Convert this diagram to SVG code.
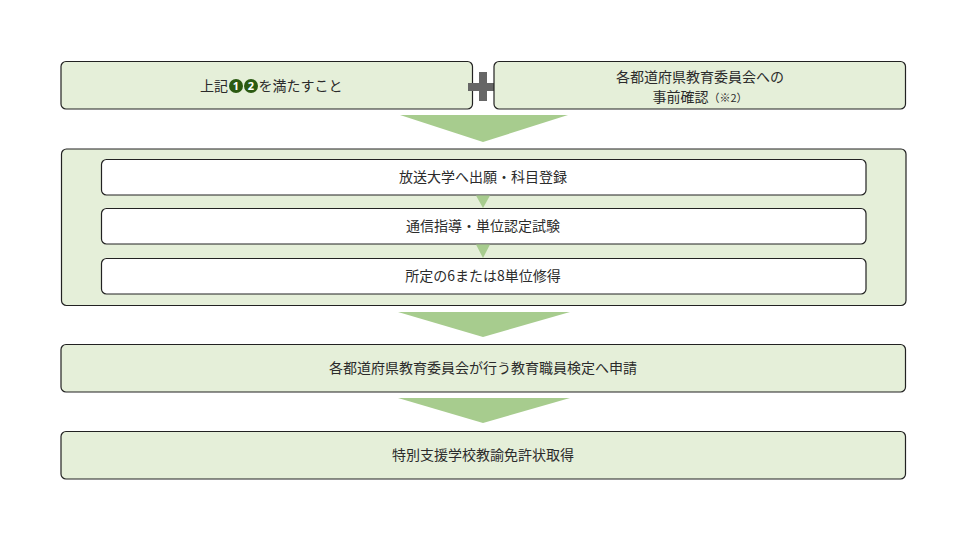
<svg xmlns="http://www.w3.org/2000/svg" width="966" height="541" viewBox="0 0 966 541">
<defs>
<style>
.box{fill:#e5efd9;stroke:#222;stroke-width:1.2}
.inner{fill:#fff;stroke:#222;stroke-width:1.2}
.arrow{fill:#a7cc8e}
.t{font-family:"Noto Sans CJK JP","Noto Sans",sans-serif;font-size:14px;fill:#2b2b2b;text-anchor:middle}
.s{text-anchor:start}
.nc{fill:#2b5a12}
.nd{font-family:"Noto Sans","Liberation Sans",sans-serif;font-size:11px;font-weight:bold;fill:#fff;text-anchor:middle}
</style>
</defs>
<rect width="966" height="541" fill="#fff"/>
<g id="req1">
<rect class="box" x="61" y="61.5" width="411.5" height="47.5" rx="5"/>
<text class="t s" x="200" y="91">上記</text>
<circle class="nc" cx="236" cy="86" r="7"/>
<text class="nd" x="236" y="90">1</text>
<circle class="nc" cx="251" cy="86" r="7"/>
<text class="nd" x="251" y="90">2</text>
<text class="t s" x="258.5" y="91">を満たすこと</text>
</g>
<g id="plus">
<rect x="479" y="72" width="8" height="29" fill="#666"/>
<rect x="468" y="83" width="30" height="8" fill="#666"/>
</g>
<g id="req2">
<rect class="box" x="494" y="61.5" width="411.5" height="47.5" rx="5"/>
<text class="t" x="700" y="82">各都道府県教育委員会への</text>
<text class="t" x="700" y="102">事前確認<tspan font-size="11">（※2）</tspan></text>
</g>
<g id="university">
<rect class="box" x="61.5" y="149" width="844.5" height="156.5" rx="5"/>
</g>
<g id="step1">
<rect class="inner" x="101.5" y="159.5" width="764.5" height="35.5" rx="5"/>
<text class="t" x="483" y="182">放送大学へ出願・科目登録</text>
</g>
<g id="step2">
<rect class="inner" x="101.5" y="208.5" width="764.5" height="35.5" rx="5"/>
<text class="t" x="483" y="231">通信指導・単位認定試験</text>
</g>
<g id="step3">
<rect class="inner" x="101.5" y="258.5" width="764.5" height="35.5" rx="5"/>
<text class="t" x="483" y="281">所定の6または8単位修得</text>
</g>
<g id="apply">
<rect class="box" x="61" y="344.5" width="844.5" height="47.5" rx="5"/>
<text class="t" x="483" y="373">各都道府県教育委員会が行う教育職員検定へ申請</text>
</g>
<g id="license">
<rect class="box" x="61" y="431.5" width="844.5" height="47.5" rx="5"/>
<text class="t" x="483" y="460">特別支援学校教諭免許状取得</text>
</g>
<g id="connectors">
<polygon class="arrow" points="400,115 568,115 483,142"/>
<polygon class="arrow" points="398,312 570,312 483,337"/>
<polygon class="arrow" points="398,398 570,398 483,423"/>
<polygon class="arrow" points="476,195.6 490,195.6 483,208"/>
<polygon class="arrow" points="476,244.6 490,244.6 483,258"/>
</g>
</svg>
